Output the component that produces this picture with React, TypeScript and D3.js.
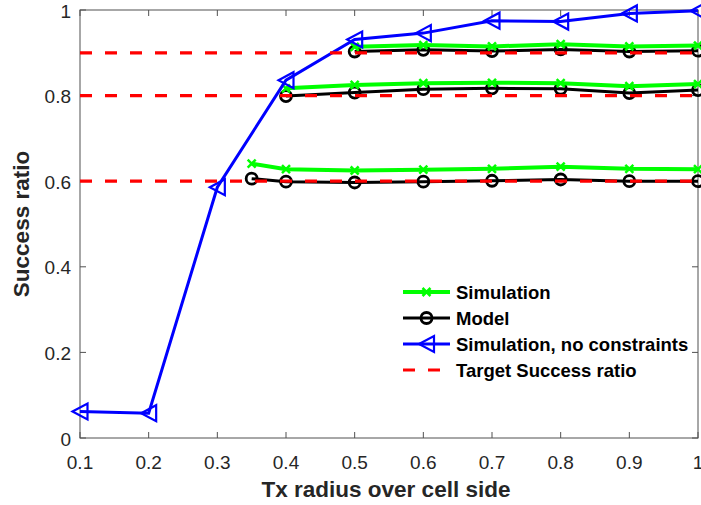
import React from "react";
import * as d3 from "d3";

const xAll = [0.1, 0.2, 0.3, 0.4, 0.5, 0.6, 0.7, 0.8, 0.9, 1.0];
const blueY = [0.062, 0.058, 0.586, 0.836, 0.931, 0.946, 0.975, 0.973, 0.992, 0.998];

const xHigh = [0.5, 0.6, 0.7, 0.8, 0.9, 1.0];
const simHigh = [0.914, 0.918, 0.915, 0.92, 0.915, 0.917];
const modHigh = [0.903, 0.907, 0.904, 0.908, 0.903, 0.905];

const xMid = [0.4, 0.5, 0.6, 0.7, 0.8, 0.9, 1.0];
const simMid = [0.817, 0.825, 0.829, 0.83, 0.829, 0.822, 0.827];
const modMid = [0.799, 0.807, 0.815, 0.817, 0.816, 0.806, 0.813];

const xLow = [0.35, 0.4, 0.5, 0.6, 0.7, 0.8, 0.9, 1.0];
const simLow = [0.641, 0.628, 0.625, 0.627, 0.629, 0.634, 0.629, 0.628];
const modLow = [0.606, 0.599, 0.597, 0.599, 0.601, 0.604, 0.6, 0.6];

const targets = [0.6, 0.8, 0.9];
const xTicks = [0.1, 0.2, 0.3, 0.4, 0.5, 0.6, 0.7, 0.8, 0.9, 1];
const yTicks = [0, 0.2, 0.4, 0.6, 0.8, 1];
const legendLabels = ["Simulation", "Model", "Simulation, no constraints", "Target Success ratio"];

const GREEN = "#00ff00";
const BLUE = "#0000ff";
const RED = "#ff0000";
const AX = "#262626";
const FONT = "Liberation Sans, Arial, sans-serif";

export default function App() {
  const L = 80, R = 698, T = 10, B = 438;
  const x = d3.scaleLinear().domain([0.1, 1]).range([L, R]);
  const y = d3.scaleLinear().domain([0, 1]).range([B, T]);
  const line = d3.line<[number, number]>().x(d => x(d[0])).y(d => y(d[1]));
  const zip = (xs: number[], ys: number[]) => xs.map((v, i) => [v, ys[i]] as [number, number]);

  const xMark = (cx: number, cy: number, k: string) => (
    <path key={k} d={`M${cx - 4},${cy - 4}L${cx + 4},${cy + 4}M${cx - 4},${cy + 4}L${cx + 4},${cy - 4}`} stroke={GREEN} strokeWidth={2.5} fill="none" />
  );
  const circ = (cx: number, cy: number, k: string) => (
    <circle key={k} cx={cx} cy={cy} r={5.5} stroke="#000" strokeWidth={2.8} fill="none" />
  );
  const tri = (cx: number, cy: number, k: string) => (
    <path key={k} d={`M${cx - 7.5},${cy}L${cx + 7.5},${cy - 8}L${cx + 7.5},${cy + 8}Z`} stroke={BLUE} strokeWidth={2.2} fill="none" />
  );

  const blacks = [zip(xHigh, modHigh), zip(xMid, modMid), zip(xLow, modLow)];
  const greens = [zip(xHigh, simHigh), zip(xMid, simMid), zip(xLow, simLow)];
  const blue = zip(xAll, blueY);

  const legY = [292, 318, 344, 370];
  const lx0 = 403, lx1 = 450, ltx = 456;

  return (
    <svg width={701} height={505} style={{ position: "absolute", left: 0, top: 0, background: "#fff" }}>
      <rect width={701} height={505} fill="#fff" />
      {/* axes box */}
      <g stroke={AX} strokeWidth={1} fill="none" opacity={0.8}>
        <rect x={L} y={T} width={R - L} height={B - T} />
        {xTicks.map((t, i) => (
          <g key={"xt" + i}>
            <line x1={x(t)} x2={x(t)} y1={B} y2={B - 6} />
            <line x1={x(t)} x2={x(t)} y1={T} y2={T + 6} />
          </g>
        ))}
        {yTicks.map((t, i) => (
          <g key={"yt" + i}>
            <line x1={L} x2={L + 6} y1={y(t)} y2={y(t)} />
            <line x1={R} x2={R - 6} y1={y(t)} y2={y(t)} />
          </g>
        ))}
      </g>
      <g fontFamily={FONT} fontSize={19} fill={AX}>
        {xTicks.map((t, i) => (
          <text key={"xl" + i} x={x(t)} y={469} textAnchor="middle">{d3.format("~g")(t)}</text>
        ))}
        {yTicks.map((t, i) => (
          <text key={"yl" + i} x={71} y={y(t) + 7.5} textAnchor="end">{d3.format("~g")(t)}</text>
        ))}
      </g>
      <text x={386} y={497} textAnchor="middle" fontFamily={FONT} fontWeight="bold" fontSize={22.5} fill={AX}>Tx radius over cell side</text>
      <text transform={`translate(29,${(T + B) / 2}) rotate(-90)`} textAnchor="middle" fontFamily={FONT} fontWeight="bold" fontSize={22.5} fill={AX}>Success ratio</text>

      {/* black model */}
      {blacks.map((d, i) => (
        <g key={"b" + i}>
          <path d={line(d) || ""} stroke="#000" strokeWidth={3} fill="none" />
          {d.map((p, j) => circ(x(p[0]), y(p[1]), `c${i}-${j}`))}
        </g>
      ))}
      {/* green simulation */}
      {greens.map((d, i) => (
        <g key={"g" + i}>
          <path d={line(d) || ""} stroke={GREEN} strokeWidth={4} fill="none" />
          {d.map((p, j) => xMark(x(p[0]), y(p[1]), `x${i}-${j}`))}
        </g>
      ))}
      {/* blue */}
      <path d={line(blue) || ""} stroke={BLUE} strokeWidth={3} fill="none" />
      {blue.map((p, j) => tri(x(p[0]), y(p[1]), "t" + j))}
      {/* red targets */}
      {targets.map((t, i) => (
        <line key={"r" + i} x1={L} x2={R} y1={y(t)} y2={y(t)} stroke={RED} strokeWidth={3.2} strokeDasharray="12,13" />
      ))}

      {/* legend */}
      <g fontFamily={FONT} fontWeight="bold" fontSize={18.5} fill="#000">
        <line x1={lx0} x2={lx1} y1={legY[0]} y2={legY[0]} stroke={GREEN} strokeWidth={4} />
        {xMark((lx0 + lx1) / 2, legY[0], "lx")}
        <line x1={lx0} x2={lx1} y1={legY[1]} y2={legY[1]} stroke="#000" strokeWidth={3} />
        {circ((lx0 + lx1) / 2, legY[1], "lc")}
        <line x1={lx0} x2={lx1} y1={legY[2]} y2={legY[2]} stroke={BLUE} strokeWidth={3} />
        {tri((lx0 + lx1) / 2, legY[2], "lt")}
        <line x1={lx0} x2={lx1} y1={legY[3]} y2={legY[3]} stroke={RED} strokeWidth={3.2} strokeDasharray="12,13" />
        {legendLabels.map((s, i) => (
          <text key={"lg" + i} x={ltx} y={legY[i] + 6.5} >{s}</text>
        ))}
      </g>
    </svg>
  );
}
